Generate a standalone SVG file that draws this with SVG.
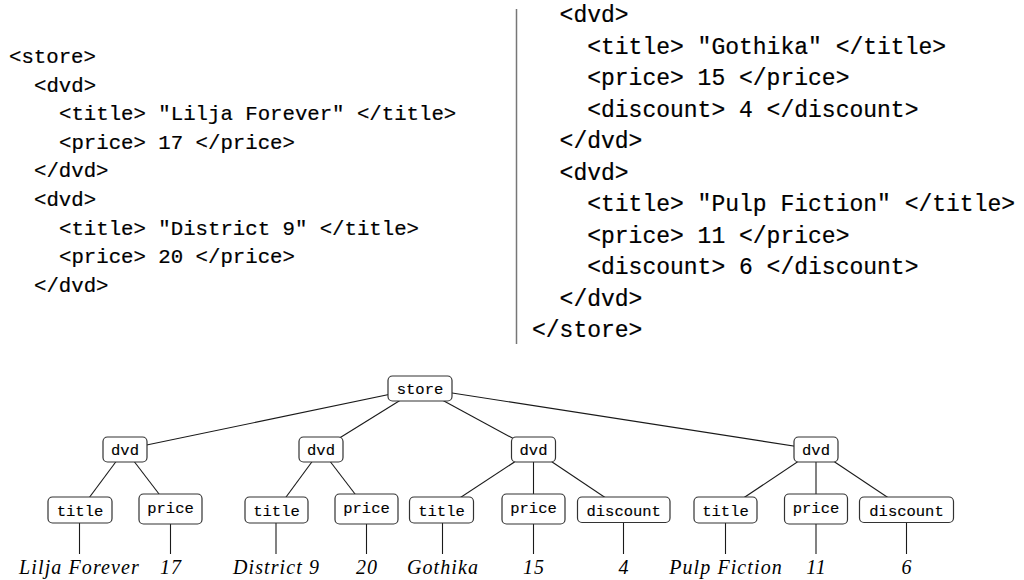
<svg xmlns="http://www.w3.org/2000/svg" width="1024" height="580" viewBox="0 0 1024 580">
  <style>
    .code { font-family: "Liberation Mono", "DejaVu Sans Mono", monospace; font-size: 20.7px; fill: #000; stroke: #000; stroke-width: 0.2; white-space: pre; }
    .code-lg { font-size: 23px; }
    .box { fill: #fff; stroke: #333; stroke-width: 1.2; }
    .lbl { font-family: "Liberation Mono", "DejaVu Sans Mono", monospace; font-size: 15.5px; fill: #000; stroke: #000; stroke-width: 0.15; text-anchor: middle; }
    .edge { stroke: #1a1a1a; stroke-width: 1.1; fill: none; }
    .leaf { font-family: "Liberation Serif", "DejaVu Serif", serif; font-style: italic; font-size: 20px; letter-spacing: 1.1px; fill: #000; text-anchor: middle; }
  </style>
  <rect width="1024" height="580" fill="#fff"/>

  <!-- XML source listing, left column -->
  <g id="listing-left">
    <text class="code" x="9" y="63">&lt;store&gt;</text>
    <text class="code" x="34" y="91.6">&lt;dvd&gt;</text>
    <text class="code" x="59" y="120.2">&lt;title&gt; "Lilja Forever" &lt;/title&gt;</text>
    <text class="code" x="59" y="148.8">&lt;price&gt; 17 &lt;/price&gt;</text>
    <text class="code" x="34" y="177.4">&lt;/dvd&gt;</text>
    <text class="code" x="34" y="206">&lt;dvd&gt;</text>
    <text class="code" x="59" y="234.6">&lt;title&gt; "District 9" &lt;/title&gt;</text>
    <text class="code" x="59" y="263.2">&lt;price&gt; 20 &lt;/price&gt;</text>
    <text class="code" x="34" y="291.8">&lt;/dvd&gt;</text>
  </g>

  <!-- column separator -->
  <line x1="516.5" y1="9" x2="516.5" y2="344" stroke="#777" stroke-width="1.5"/>

  <!-- XML source listing, right column (set slightly larger) -->
  <g id="listing-right">
    <text class="code code-lg" x="559.6" y="22">&lt;dvd&gt;</text>
    <text class="code code-lg" x="587.2" y="53.5">&lt;title&gt; "Gothika" &lt;/title&gt;</text>
    <text class="code code-lg" x="587.2" y="85">&lt;price&gt; 15 &lt;/price&gt;</text>
    <text class="code code-lg" x="587.2" y="116.5">&lt;discount&gt; 4 &lt;/discount&gt;</text>
    <text class="code code-lg" x="559.6" y="148">&lt;/dvd&gt;</text>
    <text class="code code-lg" x="559.6" y="179.5">&lt;dvd&gt;</text>
    <text class="code code-lg" x="587.2" y="211">&lt;title&gt; "Pulp Fiction" &lt;/title&gt;</text>
    <text class="code code-lg" x="587.2" y="242.5">&lt;price&gt; 11 &lt;/price&gt;</text>
    <text class="code code-lg" x="587.2" y="274">&lt;discount&gt; 6 &lt;/discount&gt;</text>
    <text class="code code-lg" x="559.6" y="305.5">&lt;/dvd&gt;</text>
    <text class="code code-lg" x="532" y="337">&lt;/store&gt;</text>
  </g>

  <!-- tree edges -->
  <g id="connectors">
    <line class="edge" x1="420" y1="388" x2="125" y2="449.5"/>
    <line class="edge" x1="420" y1="388" x2="321" y2="449.5"/>
    <line class="edge" x1="420" y1="388" x2="533.5" y2="449.5"/>
    <line class="edge" x1="420" y1="388" x2="816" y2="449.5"/>

    <line class="edge" x1="125" y1="449.5" x2="80" y2="510"/>
    <line class="edge" x1="125" y1="449.5" x2="170.5" y2="509"/>
    <line class="edge" x1="321" y1="449.5" x2="276.5" y2="510"/>
    <line class="edge" x1="321" y1="449.5" x2="366.5" y2="509"/>
    <line class="edge" x1="533.5" y1="449.5" x2="441.5" y2="510"/>
    <line class="edge" x1="533.5" y1="449.5" x2="533.5" y2="509"/>
    <line class="edge" x1="533.5" y1="449.5" x2="623.7" y2="510"/>
    <line class="edge" x1="816" y1="449.5" x2="725.5" y2="510"/>
    <line class="edge" x1="816" y1="449.5" x2="816" y2="509"/>
    <line class="edge" x1="816" y1="449.5" x2="906.5" y2="510"/>

    <line class="edge" x1="79.5" y1="523" x2="79.5" y2="554"/>
    <line class="edge" x1="170.5" y1="524" x2="170.5" y2="554"/>
    <line class="edge" x1="276" y1="523" x2="276" y2="554"/>
    <line class="edge" x1="366.5" y1="524" x2="366.5" y2="554"/>
    <line class="edge" x1="442.5" y1="523" x2="442.5" y2="554"/>
    <line class="edge" x1="533.5" y1="524" x2="533.5" y2="554"/>
    <line class="edge" x1="623.5" y1="522.5" x2="623.5" y2="554"/>
    <line class="edge" x1="725.5" y1="523" x2="725.5" y2="554"/>
    <line class="edge" x1="816" y1="524" x2="816" y2="554"/>
    <line class="edge" x1="906.5" y1="522.5" x2="906.5" y2="554"/>
  </g>

  <!-- tree nodes -->
  <g id="store">
    <rect class="box" x="388" y="376" width="64" height="25" rx="4.5"/>
    <text class="lbl" x="420" y="394">store</text>
  </g>
  <g id="dvd1">
    <rect class="box" x="103" y="437" width="44" height="25" rx="4.5"/>
    <text class="lbl" x="125" y="455">dvd</text>
  </g>
  <g id="dvd2">
    <rect class="box" x="299" y="437" width="44" height="25" rx="4.5"/>
    <text class="lbl" x="321" y="455">dvd</text>
  </g>
  <g id="dvd3">
    <rect class="box" x="511.5" y="437" width="44" height="25" rx="4.5"/>
    <text class="lbl" x="533.5" y="455">dvd</text>
  </g>
  <g id="dvd4">
    <rect class="box" x="794" y="437" width="44" height="25" rx="4.5"/>
    <text class="lbl" x="816" y="455">dvd</text>
  </g>

  <g id="title1">
    <rect class="box" x="48" y="497" width="64" height="26" rx="4.5"/>
    <text class="lbl" x="80" y="515.5">title</text>
  </g>
  <g id="price1">
    <rect class="box" x="139" y="494" width="63" height="30" rx="4.5"/>
    <text class="lbl" x="170.5" y="513">price</text>
  </g>
  <g id="title2">
    <rect class="box" x="245" y="497" width="63" height="26" rx="4.5"/>
    <text class="lbl" x="276.5" y="515.5">title</text>
  </g>
  <g id="price2">
    <rect class="box" x="335" y="494" width="63" height="30" rx="4.5"/>
    <text class="lbl" x="366.5" y="513">price</text>
  </g>
  <g id="title3">
    <rect class="box" x="409.5" y="497" width="64" height="26" rx="4.5"/>
    <text class="lbl" x="441.5" y="515.5">title</text>
  </g>
  <g id="price3">
    <rect class="box" x="502" y="494" width="63" height="30" rx="4.5"/>
    <text class="lbl" x="533.5" y="513">price</text>
  </g>
  <g id="discount1">
    <rect class="box" x="577.5" y="497" width="92.5" height="25.5" rx="4.5"/>
    <text class="lbl" x="623.7" y="515.5">discount</text>
  </g>
  <g id="title4">
    <rect class="box" x="694" y="497" width="63" height="26" rx="4.5"/>
    <text class="lbl" x="725.5" y="515.5">title</text>
  </g>
  <g id="price4">
    <rect class="box" x="784.5" y="494" width="63" height="30" rx="4.5"/>
    <text class="lbl" x="816" y="513">price</text>
  </g>
  <g id="discount2">
    <rect class="box" x="859.5" y="497" width="94" height="25.5" rx="4.5"/>
    <text class="lbl" x="906.5" y="515.5">discount</text>
  </g>

  <!-- leaf values -->
  <g id="leaves">
    <text class="leaf" x="79.5" y="574">Lilja Forever</text>
    <text class="leaf" x="171" y="574">17</text>
    <text class="leaf" x="276.5" y="574">District 9</text>
    <text class="leaf" x="367" y="574">20</text>
    <text class="leaf" x="443" y="574">Gothika</text>
    <text class="leaf" x="534" y="574">15</text>
    <text class="leaf" x="624" y="574">4</text>
    <text class="leaf" x="726" y="574">Pulp Fiction</text>
    <text class="leaf" x="816.5" y="574">11</text>
    <text class="leaf" x="907" y="574">6</text>
  </g>
</svg>
